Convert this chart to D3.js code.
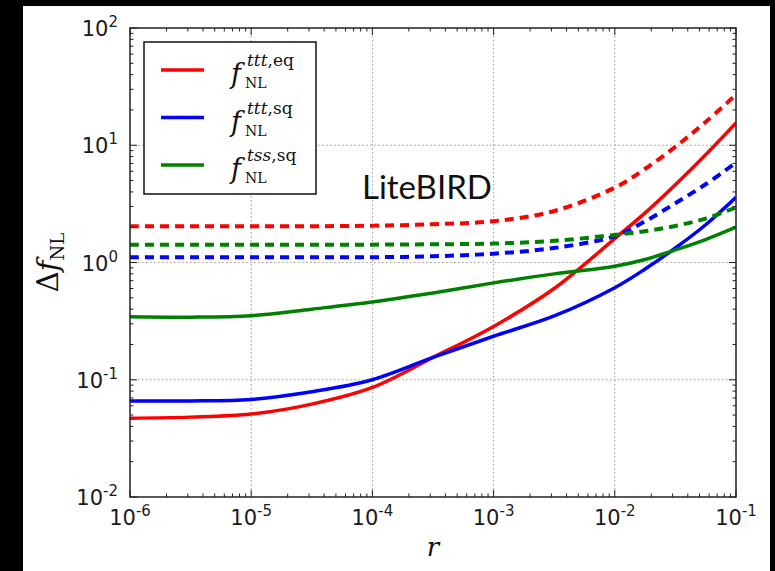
<!DOCTYPE html>
<html>
<head>
<meta charset="utf-8">
<script src="https://cdn.jsdelivr.net/npm/d3@7"></script>
<style>
  html, body { margin: 0; padding: 0; background: #000; }
  svg { display: block; }
</style>
</head>
<body>
<svg id="chart" width="775" height="571"></svg>
<script>
// r values (half-decade sampling, denser near the right edge)
const rVals = [1e-6, 3.16e-6, 1e-5, 3.16e-5, 1e-4, 3.16e-4, 1e-3, 3.16e-3, 1e-2, 1.78e-2, 3.16e-2, 5.62e-2, 1e-1];

// solid curves (LiteBIRD)
const tttEq = [0.047, 0.048, 0.051, 0.062, 0.086, 0.155, 0.285, 0.60, 1.6, 2.65, 4.6, 8.3, 15.5];
const tttSq = [0.066, 0.066, 0.068, 0.079, 0.100, 0.155, 0.235, 0.35, 0.61, 0.88, 1.33, 2.1, 3.6];
const tssSq = [0.345, 0.342, 0.352, 0.40, 0.46, 0.55, 0.67, 0.80, 0.93, 1.06, 1.28, 1.57, 2.0];

// dashed curves
const tttEqDash = [2.04, 2.04, 2.04, 2.04, 2.06, 2.12, 2.25, 2.75, 4.35, 6.3, 9.7, 15.8, 27];
const tttSqDash = [1.11, 1.11, 1.11, 1.11, 1.11, 1.13, 1.19, 1.33, 1.68, 2.25, 3.2, 4.65, 7.1];
const tssSqDash = [1.42, 1.42, 1.42, 1.42, 1.42, 1.43, 1.45, 1.53, 1.72, 1.85, 2.05, 2.37, 2.95];

const xTickExps = [-6, -5, -4, -3, -2, -1];
const yTickExps = [-2, -1, 0, 1, 2];

const legendItems = [
    { color: "#ff0000", sup: "ttt", sup2: ",eq" },
    { color: "#0000ff", sup: "ttt", sup2: ",sq" },
    { color: "#008000", sup: "tss", sup2: ",sq" }
];

const series = [
    { values: tttEq, color: "#ff0000", dashed: false },
    { values: tttSq, color: "#0000ff", dashed: false },
    { values: tssSq, color: "#008000", dashed: false },
    { values: tttEqDash, color: "#ff0000", dashed: true },
    { values: tttSqDash, color: "#0000ff", dashed: true },
    { values: tssSqDash, color: "#008000", dashed: true }
];

const svg = d3.select("#chart");
const plot = { left: 130, right: 736, top: 28, bottom: 497 };

// white figure area on the black page
svg.append("rect").attr("x", 23).attr("y", 6).attr("width", 747).attr("height", 565).attr("fill", "#fff");

const x = d3.scaleLog().domain([1e-6, 1e-1]).range([plot.left, plot.right]);
const y = d3.scaleLog().domain([1e-2, 1e2]).range([plot.bottom, plot.top]);

const tickFont = "'DejaVu Sans', sans-serif";
const mathFont = "'DejaVu Serif', serif";

// grid (dotted, major ticks only)
const grid = svg.append("g").attr("stroke", "#999").attr("stroke-width", 1).attr("stroke-dasharray", "1.5,2.5");
xTickExps.slice(1, -1).forEach(e => {
    grid.append("line").attr("x1", x(10 ** e)).attr("x2", x(10 ** e)).attr("y1", plot.top).attr("y2", plot.bottom);
});
yTickExps.slice(1, -1).forEach(e => {
    grid.append("line").attr("x1", plot.left).attr("x2", plot.right).attr("y1", y(10 ** e)).attr("y2", y(10 ** e));
});

// curves
const line = d3.line()
    .x((d, i) => x(rVals[i]))
    .y(d => y(d))
    .curve(d3.curveCatmullRom.alpha(0.5));

const clip = svg.append("clipPath").attr("id", "plot-clip");
clip.append("rect").attr("x", plot.left).attr("y", plot.top)
    .attr("width", plot.right - plot.left).attr("height", plot.bottom - plot.top);

svg.append("g").attr("clip-path", "url(#plot-clip)")
    .selectAll("path")
    .data(series)
    .join("path")
    .attr("d", d => line(d.values))
    .attr("fill", "none")
    .attr("stroke", d => d.color)
    .attr("stroke-width", d => d.dashed ? 4 : 3.5)
    .attr("stroke-dasharray", d => d.dashed ? "9,6" : null);

// axes frame with inward ticks on all four sides
const axes = svg.append("g").attr("stroke", "#222");
function minorTicks(exps) {
    const out = [];
    for (let e = exps[0]; e < exps[exps.length - 1]; e++) {
        for (let m = 2; m <= 9; m++) out.push(m * 10 ** e);
    }
    return out;
}
const xMinor = minorTicks(xTickExps);
const yMinor = minorTicks(yTickExps);

function vTick(px, len) {
    axes.append("line").attr("x1", px).attr("x2", px).attr("y1", plot.bottom).attr("y2", plot.bottom - len);
    axes.append("line").attr("x1", px).attr("x2", px).attr("y1", plot.top).attr("y2", plot.top + len);
}
function hTick(py, len) {
    axes.append("line").attr("y1", py).attr("y2", py).attr("x1", plot.left).attr("x2", plot.left + len);
    axes.append("line").attr("y1", py).attr("y2", py).attr("x1", plot.right).attr("x2", plot.right - len);
}
xTickExps.forEach(e => vTick(x(10 ** e), 7));
xMinor.forEach(v => vTick(x(v), 3.5));
yTickExps.forEach(e => hTick(y(10 ** e), 7));
yMinor.forEach(v => hTick(y(v), 3.5));

axes.append("rect").attr("x", plot.left).attr("y", plot.top)
    .attr("width", plot.right - plot.left).attr("height", plot.bottom - plot.top)
    .attr("fill", "none").attr("stroke-width", 1.5);

// tick labels 10^k
function powerLabel(g, e, px, py, anchor) {
    const t = g.append("text").attr("x", px).attr("y", py).attr("text-anchor", anchor)
        .attr("font-family", tickFont).attr("font-size", 21).attr("fill", "#1a1a1a");
    t.append("tspan").text("10");
    t.append("tspan").attr("font-size", 15).attr("dy", -9).text(e);
}
const labels = svg.append("g");
xTickExps.forEach(e => powerLabel(labels, e, x(10 ** e), 525, "middle"));
yTickExps.forEach(e => powerLabel(labels, e, 118, y(10 ** e) + 8, "end"));

// axis titles
svg.append("text").attr("x", (plot.left + plot.right) / 2).attr("y", 556).attr("text-anchor", "middle")
    .attr("font-family", mathFont).attr("font-style", "italic").attr("font-size", 26).attr("fill", "#111")
    .text("r");

const yTitle = svg.append("text")
    .attr("transform", `translate(58, ${(plot.top + plot.bottom) / 2}) rotate(-90)`)
    .attr("text-anchor", "middle")
    .attr("font-family", mathFont).attr("font-size", 29).attr("fill", "#111");
yTitle.append("tspan").text("Δ");
yTitle.append("tspan").attr("font-style", "italic").text("f");
yTitle.append("tspan").attr("font-size", 18).attr("dy", 6).text("NL");

// legend
const legend = svg.append("g");
legend.append("rect").attr("x", 144).attr("y", 42).attr("width", 172).attr("height", 152)
    .attr("fill", "#fff").attr("stroke", "#111").attr("stroke-width", 1.5);
legendItems.forEach((d, i) => {
    const ry = 70 + i * 47.5;
    legend.append("line").attr("x1", 161).attr("x2", 204).attr("y1", ry).attr("y2", ry)
        .attr("stroke", d.color).attr("stroke-width", 3.5);
    legend.append("text").attr("x", 231).attr("y", ry + 13)
        .attr("font-family", mathFont).attr("font-style", "italic").attr("font-size", 27).attr("fill", "#111")
        .text("f");
    const sup = legend.append("text").attr("x", 247).attr("y", ry - 4)
        .attr("font-family", mathFont).attr("font-size", 17).attr("fill", "#111");
    sup.append("tspan").attr("font-style", "italic").text(d.sup);
    sup.append("tspan").text(d.sup2);
    legend.append("text").attr("x", 245).attr("y", ry + 18)
        .attr("font-family", mathFont).attr("font-size", 14).attr("fill", "#111")
        .text("NL");
});

// experiment label
svg.append("text").attr("x", 362).attr("y", 199)
    .attr("font-family", "Lato, 'Open Sans', sans-serif").attr("font-size", 33).attr("fill", "#111")
    .text("LiteBIRD");
</script>
</body>
</html>
